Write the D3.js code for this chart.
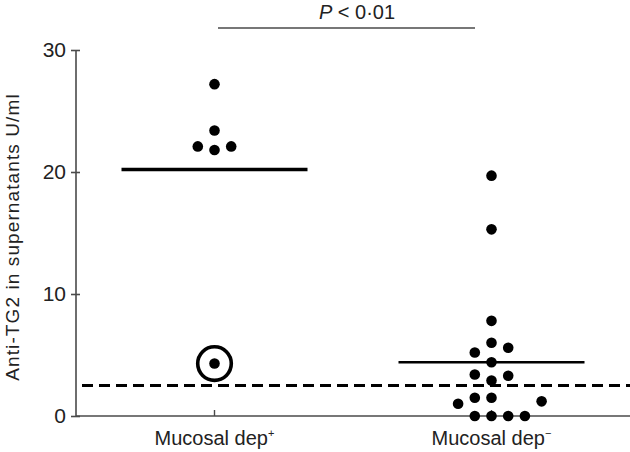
<!DOCTYPE html>
<html>
<head>
<meta charset="utf-8">
<script src="https://cdn.jsdelivr.net/npm/d3@7"></script>
<style>
  body { margin: 0; background: #fff; }
  svg { display: block; font-family: "Liberation Sans", Arial, sans-serif; }
</style>
</head>
<body>
<script>
// groups on the x axis
const groups = ['pos', 'neg'];
const groupLabels = ['Mucosal dep', 'Mucosal dep'];
const groupSup = ['+', '\u2212'];

// points: [value, column offset in the dot stack]
const posPoints = [[27.2, 0], [23.4, 0], [22.1, -1], [21.8, 0], [22.1, 1], [4.3, 0]];
const negPoints = [
  [19.7, 0], [15.3, 0], [7.8, 0], [6.0, 0], [5.6, 1], [5.2, -1], [4.4, 0],
  [3.4, -1], [3.3, 1], [2.9, 0], [1.5, -1], [1.5, 0], [1.0, -2], [1.2, 3],
  [0, -1], [0, 0], [0, 1], [0, 2]
];
const means = [20.2, 4.4];
const circled = {group: 'pos', value: 4.3};
const cutoff = 2.5;
const yTicks = [0, 10, 20, 30];
const pText = 'P < 0\u00b701';

const width = 630, height = 452;
const margin = {top: 50, left: 76, right: 0, bottom: 36};

const svg = d3.select('body').append('svg')
  .attr('width', width)
  .attr('height', height);

const x = d3.scalePoint()
  .domain(groups)
  .range([margin.left, width - margin.right])
  .padding(0.5);

const y = d3.scaleLinear()
  .domain([0, 30])
  .range([height - margin.bottom, margin.top]);

const step = 16.7;
const axisColor = '#4a4a4a';

// y axis
const yAxis = d3.axisLeft(y)
  .tickValues(yTicks)
  .tickSize(5)
  .tickPadding(5);

const ga = svg.append('g')
  .attr('transform', `translate(${margin.left},0)`)
  .call(yAxis);
ga.select('.domain').remove();
ga.append('line')
  .attr('y1', y(0)).attr('y2', y(30))
  .attr('stroke', axisColor).attr('stroke-width', 1.6);
ga.selectAll('.tick line')
  .attr('x1', -5).attr('x2', 4)
  .attr('stroke', axisColor).attr('stroke-width', 1.6);
ga.selectAll('.tick text')
  .attr('font-size', 21)
  .attr('fill', '#222')
  .attr('font-family', '"Liberation Sans", Arial, sans-serif');

// x axis line
svg.append('line')
  .attr('x1', margin.left).attr('x2', width)
  .attr('y1', y(0)).attr('y2', y(0))
  .attr('stroke', axisColor).attr('stroke-width', 1.6);

svg.selectAll('.xtick')
  .data(groups)
  .enter().append('line')
  .attr('x1', d => x(d)).attr('x2', d => x(d))
  .attr('y1', y(0)).attr('y2', y(0) - 6)
  .attr('stroke', axisColor).attr('stroke-width', 1.4);

const xl = svg.selectAll('.xlab')
  .data(groups)
  .enter().append('text')
  .attr('x', d => x(d))
  .attr('y', y(0) + 29)
  .attr('text-anchor', 'middle')
  .attr('font-size', 20)
  .attr('fill', '#222');
xl.append('tspan').text((d, i) => groupLabels[i]);
xl.append('tspan')
  .attr('dy', -8)
  .attr('font-size', 11)
  .text((d, i) => groupSup[i]);

// y label
svg.append('text')
  .attr('transform', `translate(19, ${(y(0) + y(30)) / 2 + 4}) rotate(-90)`)
  .attr('text-anchor', 'middle')
  .attr('font-size', 19)
  .attr('letter-spacing', 1.1)
  .attr('fill', '#222')
  .text('Anti-TG2 in supernatants U/ml');

// cutoff dashed line
svg.append('line')
  .attr('x1', margin.left + 6).attr('x2', width)
  .attr('y1', y(cutoff)).attr('y2', y(cutoff))
  .attr('stroke', '#000').attr('stroke-width', 3)
  .attr('stroke-dasharray', '11,6');

// mean lines
svg.selectAll('.mean')
  .data(groups)
  .enter().append('line')
  .attr('x1', d => x(d) - 93).attr('x2', d => x(d) + 93)
  .attr('y1', (d, i) => y(means[i])).attr('y2', (d, i) => y(means[i]))
  .attr('stroke', '#000')
  .attr('stroke-width', (d, i) => i === 0 ? 3.4 : 2.6);

// points
const allPoints = posPoints.map(p => ({g: 'pos', v: p[0], c: p[1]}))
  .concat(negPoints.map(p => ({g: 'neg', v: p[0], c: p[1]})));

svg.selectAll('.dot')
  .data(allPoints)
  .enter().append('circle')
  .attr('cx', d => x(d.g) + d.c * step)
  .attr('cy', d => y(d.v))
  .attr('r', 5.3)
  .attr('fill', '#000');

// circled point
svg.append('circle')
  .attr('cx', x(circled.group))
  .attr('cy', y(circled.value))
  .attr('r', 16.8)
  .attr('fill', 'none')
  .attr('stroke', '#000')
  .attr('stroke-width', 3.6);

// significance bar
svg.append('line')
  .attr('x1', 218).attr('x2', 475)
  .attr('y1', 28).attr('y2', 28)
  .attr('stroke', axisColor).attr('stroke-width', 1.6);

const pt = svg.append('text')
  .attr('x', (x('pos') + x('neg')) / 2 + 4)
  .attr('y', 19)
  .attr('text-anchor', 'middle')
  .attr('font-size', 20)
  .attr('fill', '#222');
pt.append('tspan').attr('font-style', 'italic').text('P');
pt.append('tspan').text(pText.slice(1));
</script>
</body>
</html>
